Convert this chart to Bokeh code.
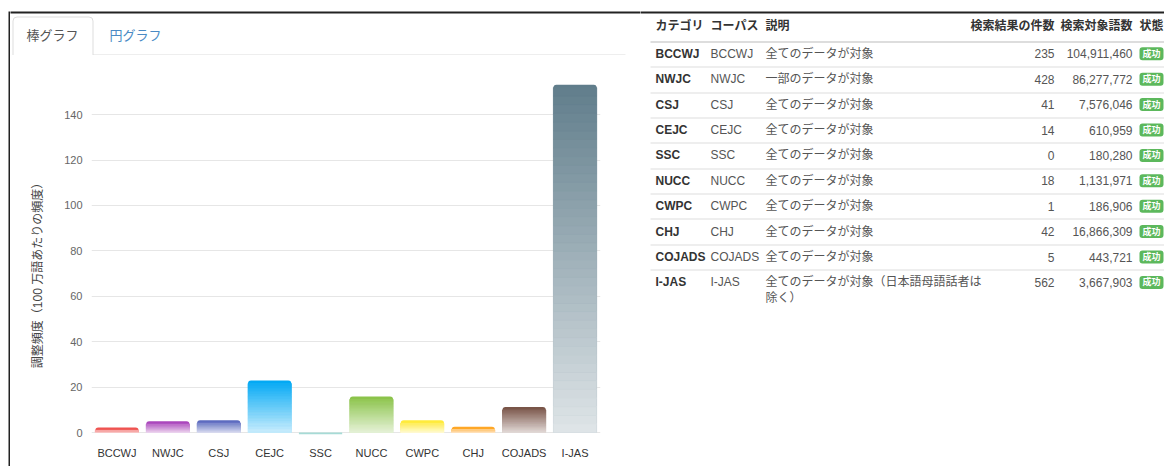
import math
from bokeh.plotting import figure
from bokeh.layouts import row, column
from bokeh.models import Range1d, FactorRange, FixedTicker, ColumnDataSource
from bokeh.core.properties import value
from bokeh.embed import file_html
from bokeh.resources import INLINE

# ---------------- data ----------------
categories = ["BCCWJ", "NWJC", "CSJ", "CEJC", "SSC", "NUCC", "CWPC", "CHJ", "COJADS", "I-JAS"]
adjusted_freq = [2.24, 4.96, 5.41, 22.9, 0.0, 15.9, 5.35, 2.49, 11.27, 153.2]
bar_colors = ["#ef5350", "#ab47bc", "#5c6bc0", "#03a9f4", "#80cbc4",
              "#8bc34a", "#ffeb3b", "#ffa726", "#795548", "#607d8b"]
y_ticks = [0, 20, 40, 60, 80, 100, 120, 140]
y_label = "調整頻度（100 万語あたりの頻度）"
tab_labels = ["棒グラフ", "円グラフ"]

table_headers = ["カテゴリ", "コーパス", "説明", "検索結果の件数", "検索対象語数", "状態"]
corpora = ["BCCWJ", "NWJC", "CSJ", "CEJC", "SSC", "NUCC", "CWPC", "CHJ", "COJADS", "I-JAS"]
descriptions = ["全てのデータが対象", "一部のデータが対象", "全てのデータが対象", "全てのデータが対象",
                "全てのデータが対象", "全てのデータが対象", "全てのデータが対象", "全てのデータが対象",
                "全てのデータが対象", "全てのデータが対象（日本語母語話者は除く）"]
hit_counts = [235, 428, 41, 14, 0, 18, 1, 42, 5, 562]
word_counts = [104911460, 86277772, 7576046, 610959, 180280, 1131971, 186906, 16866309, 443721, 3667903]
status = ["成功"] * 10

# ---------------- style helpers ----------------
FONT = "Liberation Sans, Noto Sans CJK JP"
FRAME_COLOR = "#222222"
PAGE_H = 466


def mix_white(hexc, m):
    rgb = [int(hexc[i:i + 2], 16) for i in (1, 3, 5)]
    return "#%02x%02x%02x" % tuple(int(round(c * (1 - m) + 255 * m)) for c in rgb)


def bare(fig, border=True):
    fig.outline_line_color = None
    fig.grid.visible = False
    if border:
        fig.min_border = 0
        fig.min_border_left = 0
        fig.min_border_right = 0
        fig.min_border_top = 0
        fig.min_border_bottom = 0
    if "frame_align" in fig.properties():
        fig.frame_align = False
    return fig


# ---------------- left frame line ----------------
lb = figure(width=10, height=PAGE_H, output_backend="svg", toolbar_location=None,
            x_range=Range1d(0, 10), y_range=Range1d(PAGE_H, 0),
            x_axis_location=None, y_axis_location=None)
bare(lb)
lb.quad(left=8, right=10, top=11, bottom=PAGE_H + 5, fill_color=FRAME_COLOR, line_color=None)

# ---------------- tab header ----------------
h = figure(width=630, height=55, output_backend="svg", toolbar_location=None,
           x_range=Range1d(10, 640), y_range=Range1d(55, 0),
           x_axis_location=None, y_axis_location=None)
bare(h)
h.quad(left=5, right=645, top=11, bottom=13, fill_color=FRAME_COLOR, line_color=None)
h.quad(left=12.5, right=92.5, top=16.5, bottom=70, fill_color="white",
       line_color="#dddddd", line_width=1, border_radius=(4, 4, 0, 0))
h.segment(x0=92.5, y0=54.5, x1=625, y1=54.5, line_color="#dddddd", line_width=1)
h.text(x=[52, 135], y=[35, 35], text=tab_labels, text_align="center", text_baseline="middle",
       text_font=value(FONT), text_font_size="13px", text_color=["#555555", "#4a8ac4"])

# ---------------- bar chart ----------------
Y0, Y1 = -0.88, 158.1
FRAME_H = 361
PX = FRAME_H / (Y1 - Y0)
BAR_W = 0.85
N_SLICES = 40
BORDER_T, BORDER_B = 18, PAGE_H - 55 - 18 - FRAME_H

p = figure(x_range=FactorRange(factors=categories), y_range=Range1d(Y0, Y1),
           width=580, height=PAGE_H - 55, output_backend="svg", toolbar_location=None,
           min_border_left=31, min_border_right=40, min_border_top=BORDER_T,
           min_border_bottom=BORDER_B)
bare(p, border=False)
p.ygrid.visible = True
p.xgrid.visible = False
p.ygrid.grid_line_color = "#e6e6e6"
p.yaxis.ticker = FixedTicker(ticks=y_ticks)
for ax in (p.xaxis, p.yaxis):
    ax.axis_line_color = None
    ax.major_tick_line_color = None
    ax.minor_tick_line_color = None
    ax.major_tick_out = 0
    ax.major_tick_in = 0
    ax.major_label_text_font = FONT
    ax.major_label_text_font_size = "11px"
p.yaxis.major_label_text_color = "#666666"
p.yaxis.major_label_standoff = 9
p.xaxis.major_label_text_color = "#333333"
p.xaxis.major_label_standoff = 12

pos = [i for i, v in enumerate(adjusted_freq) if v > 0]
zero = [i for i, v in enumerate(adjusted_freq) if v <= 0]

base = ColumnDataSource(dict(x=[categories[i] for i in pos],
                             top=[adjusted_freq[i] for i in pos],
                             color=[bar_colors[i] for i in pos]))
p.vbar(x="x", top="top", bottom=0, width=BAR_W, fill_color="color", line_color=None,
       border_radius=(3, 3, 0, 0), source=base)

r_units = 3 / PX
sx, sb, st, sc = [], [], [], []
for i in pos:
    v = adjusted_freq[i]
    hh = max(v - r_units, 0)
    if hh <= 0:
        continue
    for k in range(N_SLICES):
        b = hh * k / N_SLICES
        t_ = hh * (k + 1) / N_SLICES
        mid = (b + t_) / 2 / v
        sx.append(categories[i])
        sb.append(b)
        st.append(t_)
        sc.append(mix_white(bar_colors[i], 0.8 * (1 - mid)))
slices = ColumnDataSource(dict(x=sx, bottom=sb, top=st, color=sc))
p.vbar(x="x", top="top", bottom="bottom", width=BAR_W, fill_color="color",
       line_color="color", line_width=0.8, source=slices)

zsrc = ColumnDataSource(dict(x=[categories[i] for i in zero],
                             color=[mix_white(bar_colors[i], 0.3) for i in zero]))
p.vbar(x="x", top=0, bottom=Y0, width=BAR_W, fill_color="color", line_color=None, source=zsrc)

# ---------------- y-axis title (own strip, same vertical scale as the chart) ----------------
lab = figure(width=50, height=PAGE_H - 55, output_backend="svg", toolbar_location=None,
             x_range=Range1d(10, 60), y_range=p.y_range,
             min_border_left=0, min_border_right=0, min_border_top=BORDER_T,
             min_border_bottom=BORDER_B, x_axis_location=None, y_axis_location=None)
bare(lab, border=False)
LABEL_PAGE_Y = 272          # vertical centre of the title on the page
ZERO_PAGE_Y = 432
lab.text(x=[37], y=[(ZERO_PAGE_Y - LABEL_PAGE_Y) / PX], text=[y_label], angle=math.pi / 2,
         text_align="center", text_baseline="middle", text_font=value(FONT),
         text_font_size="12px", text_color="#444444")

# ---------------- table ----------------
t = figure(width=524, height=PAGE_H, output_backend="svg", toolbar_location=None,
           x_range=Range1d(640, 1164), y_range=Range1d(PAGE_H, 0),
           x_axis_location=None, y_axis_location=None)
bare(t)
t.quad(left=635, right=1170, top=11, bottom=13, fill_color=FRAME_COLOR, line_color=None)

COL_CAT, COL_CORP, COL_DESC, COL_HITS, COL_WORDS, COL_STATE = 655, 710, 765, 1054, 1132, 1139
HEADER_Y = 25
ROW0 = 40.7
ROW_H = 25.4
LINE_H = 16
WRAP = 18

hdr_x = [COL_CAT, COL_CORP, COL_DESC, COL_HITS, COL_WORDS, COL_STATE]
hdr_align = ["left", "left", "left", "right", "right", "left"]
t.text(x=hdr_x, y=[HEADER_Y] * 6, text=table_headers, text_align=hdr_align,
       text_baseline="middle", text_font=value(FONT), text_font_size="12px",
       text_font_style="bold", text_color="#333333")

n = len(corpora)
line_ys = [round(ROW0 + ROW_H * i) + 0.5 for i in range(n)]
t.segment(x0=[650] * n, y0=line_ys, x1=[1170] * n, y1=line_ys, line_color="#dddddd",
          line_width=[2] + [1] * (n - 1))

row_y = [ROW0 + ROW_H * i + 12.6 for i in range(n)]
t.text(x=[COL_CAT] * n, y=row_y, text=categories, text_align="left", text_baseline="middle",
       text_font=value(FONT), text_font_size="12px", text_font_style="bold", text_color="#333333")
t.text(x=[COL_CORP] * n, y=row_y, text=corpora, text_align="left", text_baseline="middle",
       text_font=value(FONT), text_font_size="12px", text_color="#555555")

dx, dy, dt = [], [], []
for i, d in enumerate(descriptions):
    parts = [d[j:j + WRAP] for j in range(0, len(d), WRAP)]
    for k, part in enumerate(parts):
        dx.append(COL_DESC)
        dy.append(row_y[i] + LINE_H * k)
        dt.append(part)
t.text(x=dx, y=dy, text=dt, text_align="left", text_baseline="middle",
       text_font=value(FONT), text_font_size="12px", text_color="#555555")

t.text(x=[COL_HITS] * n, y=row_y, text=[f"{v:,}" for v in hit_counts], text_align="right",
       text_baseline="middle", text_font=value(FONT), text_font_size="12px", text_color="#555555")
t.text(x=[COL_WORDS] * n, y=row_y, text=[f"{v:,}" for v in word_counts], text_align="right",
       text_baseline="middle", text_font=value(FONT), text_font_size="12px", text_color="#555555")

t.quad(left=[COL_STATE] * n, right=[COL_STATE + 24] * n,
       top=[y - 6.5 for y in row_y], bottom=[y + 6.5 for y in row_y],
       fill_color="#5cb85c", line_color=None, border_radius=3)
t.text(x=[COL_STATE + 3] * n, y=row_y, text=status, text_align="left", text_baseline="middle",
       text_font=value(FONT), text_font_size="9px", text_font_style="bold", text_color="white")

# ---------------- layout ----------------
root = row(lb, column(h, row(lab, p)), t)

open("out.html", "w").write(file_html(root, INLINE))
